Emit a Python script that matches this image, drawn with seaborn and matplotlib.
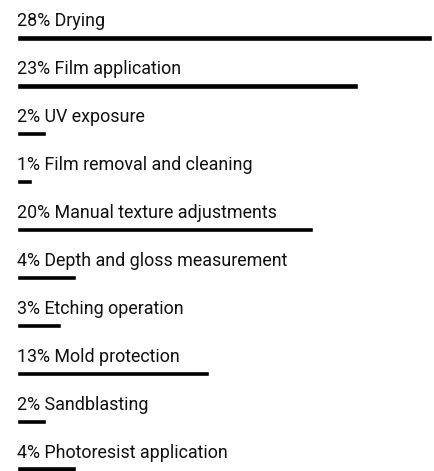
import matplotlib
matplotlib.use("Agg")
import matplotlib.pyplot as plt
import seaborn as sns
import pandas as pd

steps = [
    "Drying",
    "Film application",
    "UV exposure",
    "Film removal and cleaning",
    "Manual texture adjustments",
    "Depth and gloss measurement",
    "Etching operation",
    "Mold protection",
    "Sandblasting",
    "Photoresist application",
]
shares = [28, 23, 2, 1, 20, 4, 3, 13, 2, 4]

df = pd.DataFrame({"step": steps, "share": shares})

sns.set_style("white")
plt.rcParams["font.family"] = ["Roboto", "DejaVu Sans"]

W, H, DPI = 435, 471, 100
fig = plt.figure(figsize=(W / DPI, H / DPI), dpi=DPI)

# axes spans the bar area horizontally; rows are 47.9 px apart
left_px, right_px = 16.7, 431.7
row0_px, row_gap = 38.0, 47.9
ax = fig.add_axes([left_px / W, 0, (right_px - left_px) / W, 1])

bar_h = 5.3 / row_gap
sns.barplot(data=df, x="share", y="step", orient="h", color="black",
            width=bar_h, ax=ax, saturation=1)

ax.set_xlim(0, max(shares))
ax.set_ylim((H - row0_px) / row_gap, -row0_px / row_gap)

for i, (s, v) in enumerate(zip(steps, shares)):
    ax.annotate(f"{v}% {s}", xy=(0, i), xytext=(0, 8.3),
                textcoords="offset points", ha="left", va="baseline",
                fontsize=12.9, color="#111111", annotation_clip=False)

ax.set_axis_off()
fig.savefig("out.png", dpi=DPI)
